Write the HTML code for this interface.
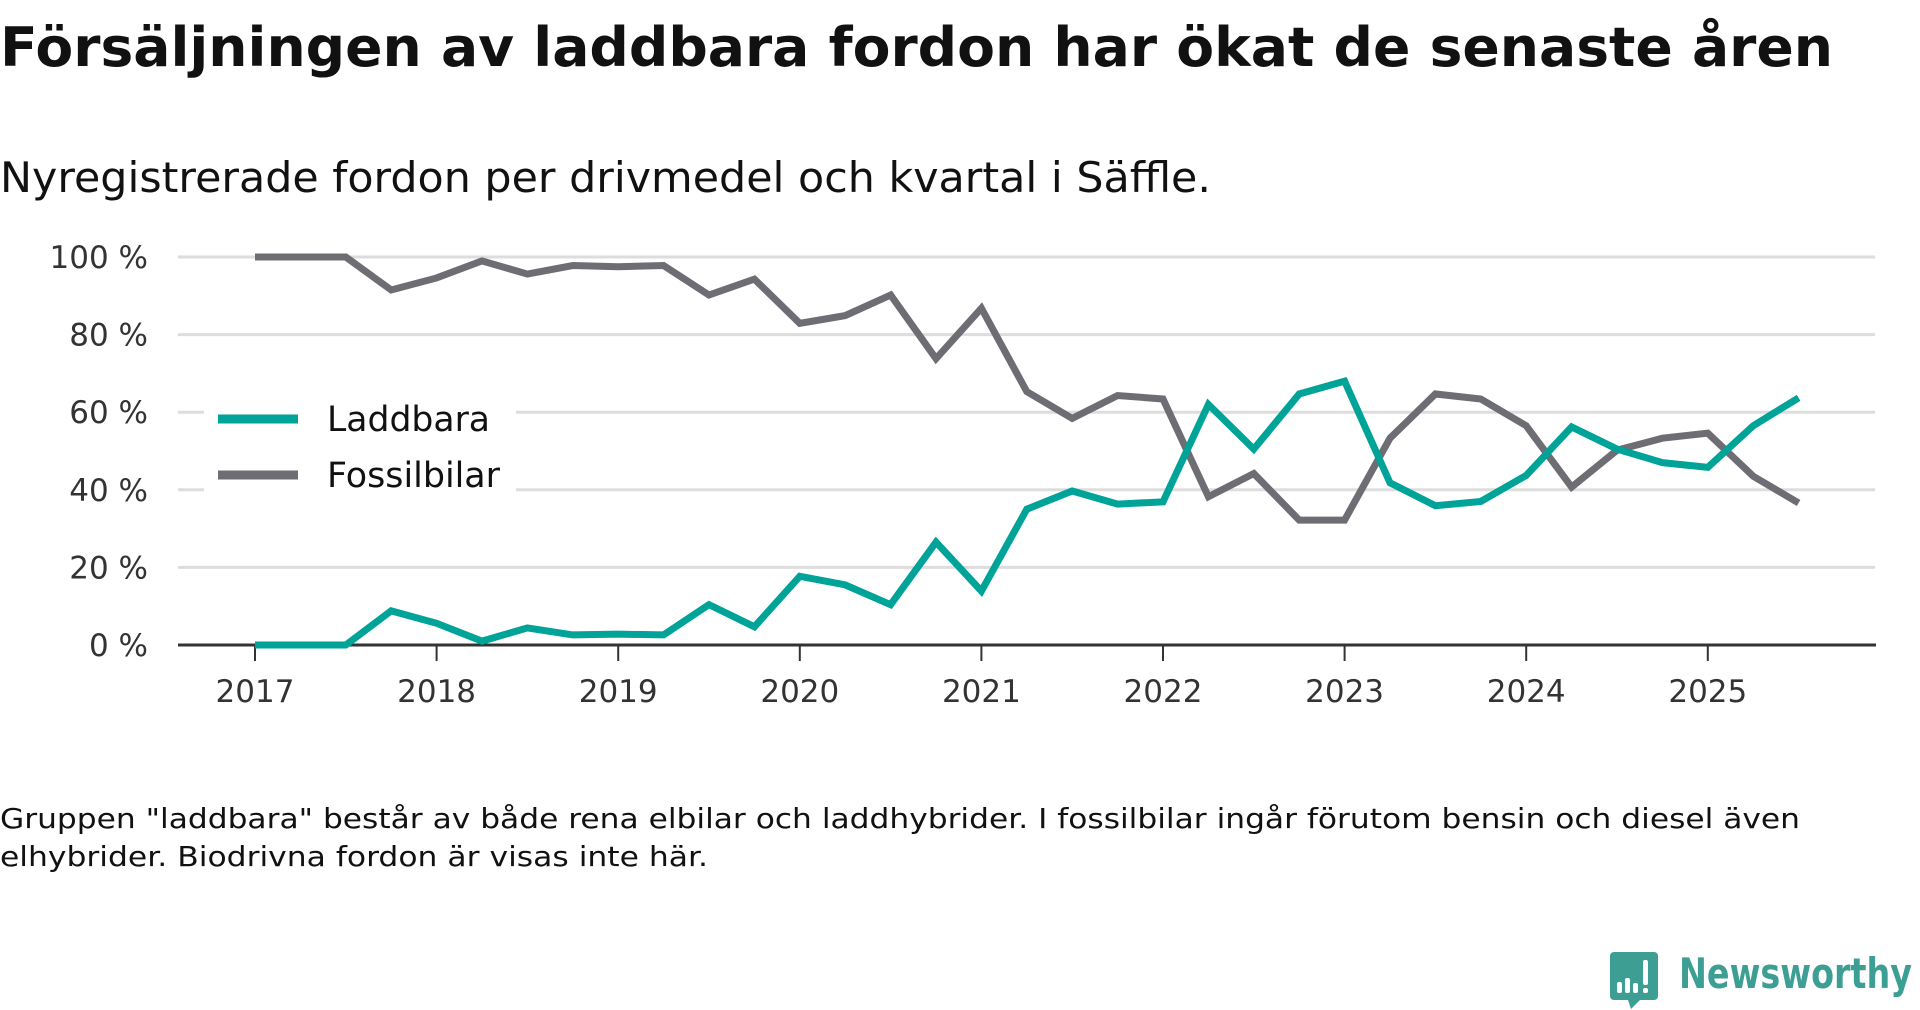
<!DOCTYPE html>
<html><head><meta charset="utf-8"><style>
html,body{margin:0;padding:0;background:#fff;width:1920px;height:1010px;overflow:hidden}
svg{display:block;font-family:"DejaVu Sans","Liberation Sans",sans-serif}
</style></head><body>
<svg id="chart" width="1920" height="1010" viewBox="0 0 1920 1010">
<text x="0" y="66" font-size="54" font-weight="bold" fill="#111" textLength="1833" lengthAdjust="spacingAndGlyphs">Försäljningen av laddbara fordon har ökat de senaste åren</text>
<text x="0" y="192" font-size="42" fill="#111" textLength="1211" lengthAdjust="spacingAndGlyphs">Nyregistrerade fordon per drivmedel och kvartal i Säffle.</text>
<g id="grid"></g>
<g id="yaxis"></g>
<g id="xaxis"></g>
<g id="lines"></g>
<g>
<rect x="204" y="390" width="312" height="110" fill="#fff"/>
<g>
<line x1="218" y1="419" x2="298" y2="419" stroke="#00a398" stroke-width="9"/>
<text x="327" y="431" font-size="35" fill="#111" textLength="163" lengthAdjust="spacingAndGlyphs">Laddbara</text></g>
<g>
<line x1="218" y1="475" x2="298" y2="475" stroke="#6e6d74" stroke-width="9"/>
<text x="327" y="487" font-size="35" fill="#111" textLength="173" lengthAdjust="spacingAndGlyphs">Fossilbilar</text></g>
</g>
<text x="0" y="828" font-size="28" fill="#111" textLength="1800" lengthAdjust="spacingAndGlyphs">Gruppen "laddbara" består av både rena elbilar och laddhybrider. I fossilbilar ingår förutom bensin och diesel även</text>
<text x="0" y="866" font-size="28" fill="#111" textLength="708" lengthAdjust="spacingAndGlyphs">elhybrider. Biodrivna fordon är visas inte här.</text>
<g>
<path d="M1614 952 h40 a4 4 0 0 1 4 4 v40 a4 4 0 0 1 -4 4 h-14 l-9 9 l-3 -9 h-14 a4 4 0 0 1 -4 -4 v-40 a4 4 0 0 1 4 -4z" fill="#3d9e93"/>
<rect x="1617" y="982" width="5" height="11" rx="2" fill="#fff"/>
<rect x="1625" y="978" width="5" height="15" rx="2" fill="#fff"/>
<rect x="1633" y="983" width="5" height="10" rx="2" fill="#fff"/>
<rect x="1643" y="960" width="5" height="25" rx="2" fill="#fff"/>
<rect x="1643" y="988" width="5" height="5" rx="2" fill="#fff"/>
<text x="1679" y="988" font-size="42" font-weight="bold" fill="#3d9e93" textLength="233" lengthAdjust="spacingAndGlyphs">Newsworthy</text>
</g>
</svg>
<script>
const years = ["2017","2018","2019","2020","2021","2022","2023","2024","2025"];
const yTicks = [0,20,40,60,80,100];
const laddbara = [0,0,0,8.8,5.6,1,4.4,2.6,2.8,2.6,10.4,4.7,17.7,15.5,10.4,26.5,13.9,35,39.7,36.3,36.9,62,50.5,64.7,68,41.8,35.9,37,43.7,56.2,50.5,47,45.8,56.5,63.7];
const fossil = [100,100,100,91.5,94.6,99,95.6,97.8,97.5,97.8,90.2,94.3,82.9,84.9,90.2,73.8,86.8,65.3,58.4,64.3,63.4,38.2,44.2,32.2,32.2,53.3,64.7,63.4,56.5,40.7,50.2,53.3,54.6,43.5,36.6];
const NS="http://www.w3.org/2000/svg";
const x=q=>255+q*45.4;
const y=v=>645-v*3.88;
function mk(t,a,p){const e=document.createElementNS(NS,t);for(const k in a)e.setAttribute(k,a[k]);p.appendChild(e);return e;}
const grid=document.getElementById('grid'),ya=document.getElementById('yaxis'),xa=document.getElementById('xaxis'),ln=document.getElementById('lines');
yTicks.forEach(v=>{
 if(v>0){const g=mk('line',{x1:178,x2:1875,y1:y(v),y2:y(v),stroke:'#dddddd','stroke-width':3},grid);
 
 }
 const t=mk('text',{x:148,y:y(v)+11,'font-size':31,fill:'#333','text-anchor':'end'},ya);t.textContent=v+' %';
 
 
});
const ax=mk('line',{x1:178,x2:1876,y1:645,y2:645,stroke:'#333','stroke-width':3},xa);


years.forEach((yr,i)=>{
 const px=x(i*4);
 const tk=mk('line',{x1:px,x2:px,y1:645,y2:661,stroke:'#333','stroke-width':2},xa);
 
 
 const t=mk('text',{x:px,y:702,'font-size':31,fill:'#333','text-anchor':'middle'},xa);t.textContent=yr;
 
 
});
function line(d,c,name){
 const p=mk('polyline',{points:d.map((v,i)=>x(i)+','+y(v)).join(' '),fill:'none',stroke:c,'stroke-width':7,'stroke-linejoin':'miter'},ln);
 
 
}
line(fossil,'#6e6d74','line-fossilbilar');
line(laddbara,'#00a398','line-laddbara');
</script>
</body></html>
